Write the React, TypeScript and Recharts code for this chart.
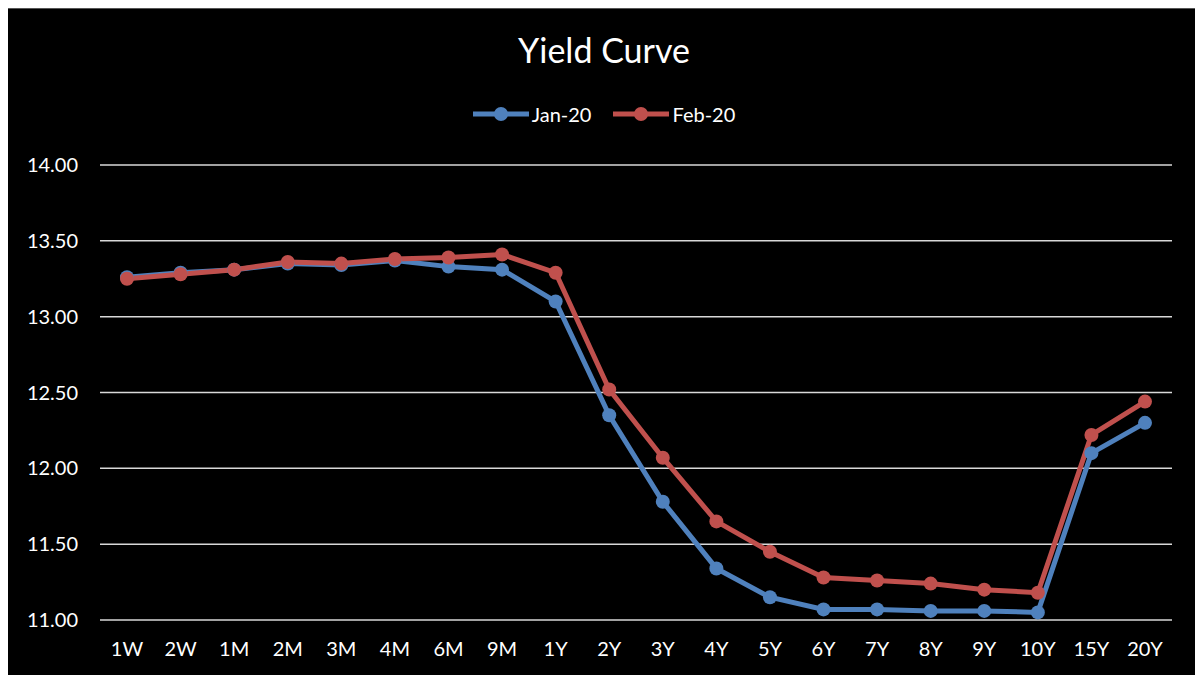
import React from 'react';
import { LineChart, Line, XAxis, YAxis, CartesianGrid } from 'recharts';

const tenors = ['1W', '2W', '1M', '2M', '3M', '4M', '6M', '9M', '1Y', '2Y', '3Y', '4Y', '5Y', '6Y', '7Y', '8Y', '9Y', '10Y', '15Y', '20Y'];
const jan20 = [13.26, 13.29, 13.31, 13.35, 13.34, 13.37, 13.33, 13.31, 13.10, 12.35, 11.78, 11.34, 11.15, 11.07, 11.07, 11.06, 11.06, 11.05, 12.10, 12.30];
const feb20 = [13.25, 13.28, 13.31, 13.36, 13.35, 13.38, 13.39, 13.41, 13.29, 12.52, 12.07, 11.65, 11.45, 11.28, 11.26, 11.24, 11.20, 11.18, 12.22, 12.44];
const yTicks = [11, 11.5, 12, 12.5, 13, 13.5, 14];

const data = tenors.map((t, i) => ({ tenor: t, jan: jan20[i], feb: feb20[i] }));

const FONT = 'Lato, sans-serif';
const BLUE = '#4F81BD';
const RED = '#C0504D';

const series = [
  { key: 'jan', name: 'Jan-20', color: BLUE },
  { key: 'feb', name: 'Feb-20', color: RED },
];

const App: React.FC = () => {
  return (
    <div style={{ position: 'relative', width: 1192, height: 668, background: '#000', boxSizing: 'border-box', borderRight: '1px solid #555', borderTop: '1px solid #555' }}>
      <div style={{ position: 'absolute', top: 20, left: 0, width: 1192, textAlign: 'center', color: '#fff', fontFamily: FONT, fontSize: 34 }}>
        Yield Curve
      </div>
      {/* legend */}
      <div style={{ position: 'absolute', top: 93, left: 0, width: 1192, display: 'flex', justifyContent: 'center', gap: 22, fontFamily: FONT, fontSize: 20, color: '#fff' }}>
        {series.map((s) => (
          <div key={s.key} style={{ display: 'flex', alignItems: 'center' }}>
            <svg width={56} height={18} style={{ marginRight: 3 }}>
              <line x1={0} y1={9} x2={56} y2={9} stroke={s.color} strokeWidth={5} />
              <circle cx={28} cy={9} r={7} fill={s.color} />
            </svg>
            <span>{s.name}</span>
          </div>
        ))}
      </div>
      <LineChart width={1192} height={668} data={data} margin={{ top: 156, right: 28, left: 0, bottom: 20 }}>
        <CartesianGrid vertical={false} stroke="#d9d9d9" strokeWidth={1.5} />
        <XAxis
          dataKey="tenor"
          axisLine={false}
          tickLine={false}
          interval={0}
          padding={{ left: 27, right: 27 }}
          tickMargin={16}
          height={37}
          tick={{ fill: '#fff', fontSize: 20, fontFamily: FONT }}
        />
        <YAxis
          domain={[11, 14]}
          ticks={yTicks}
          axisLine={false}
          tickLine={false}
          width={92}
          tickMargin={16}
          tickFormatter={(v: number) => v.toFixed(2)}
          tick={{ fill: '#fff', fontSize: 20, fontFamily: FONT }}
        />
        {series.map((s) => (
          <Line
            key={s.key}
            dataKey={s.key}
            name={s.name}
            stroke={s.color}
            strokeWidth={5}
            dot={{ r: 7, fill: s.color, stroke: s.color, strokeWidth: 0 }}
            isAnimationActive={false}
          />
        ))}
      </LineChart>
    </div>
  );
};

export default App;
